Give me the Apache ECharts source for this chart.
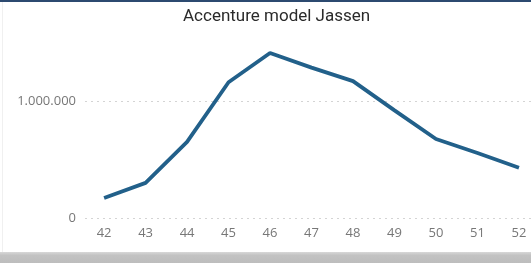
<!DOCTYPE html>
<html>
<head>
<meta charset="utf-8">
<script src="https://cdn.jsdelivr.net/npm/echarts@6/dist/echarts.min.js"></script>
<style>
    html, body { margin: 0; padding: 0; background: #fff; }
    #chart { width: 531px; height: 263px; }
</style>
</head>
<body>
<div id="chart"></div>
<script>
// Semanas e valores
const weeks = [42, 43, 44, 45, 46, 47, 48, 49, 50, 51, 52];
const values = [171000, 300000, 650000, 1160000, 1410000, 1285000, 1170000, 920000, 675000, 555000, 430000];
const yTicks = [0, 1000000];

// Formata número com ponto como separador de milhar
function formatThousands(v) {
    return String(v).replace(/\B(?=(\d{3})+(?!\d))/g, '.');
}

const chartDom = document.getElementById('chart');
const myChart = echarts.init(chartDom);

const option = {
    animation: false,
    title: {
        text: 'Accenture model Jassen',
        left: 178,
        top: 3,
        textStyle: {
            fontFamily: 'Roboto',
            fontSize: 17,
            fontWeight: 'normal',
            color: '#2a2a2a'
        }
    },
    grid: {
        left: 85,
        right: 0,
        top: 7.4,
        bottom: 45
    },
    xAxis: {
        type: 'value',
        min: 41.54,
        max: 52.29,
        axisLine: { show: false },
        axisTick: { show: false },
        splitLine: { show: false },
        axisLabel: {
            customValues: weeks,
            margin: 9,
            color: '#777',
            fontFamily: 'Open Sans',
            fontSize: 13
        }
    },
    yAxis: {
        type: 'value',
        min: 0,
        max: 1800000,
        interval: 1000000,
        axisLine: { show: false },
        axisTick: { show: false },
        axisLabel: {
            margin: 9,
            color: '#777',
            fontFamily: 'Open Sans',
            fontSize: 13,
            showMaxLabel: false,
            formatter: function (v) {
                return yTicks.includes(v) ? formatThousands(v) : '';
            }
        },
        splitLine: {
            showMaxLine: false,
            lineStyle: {
                color: '#d4d4d4',
                type: [2, 4],
                width: 1
            }
        }
    },
    series: [{
        type: 'line',
        data: weeks.map((w, i) => [w, values[i]]),
        showSymbol: false,
        lineStyle: {
            color: '#22608a',
            width: 3.8
        }
    }],
    graphic: [
        // faixa azul no topo
        { type: 'rect', shape: { x: 0, y: 0, width: 531, height: 2 }, style: { fill: '#2c4a70' } },
        // borda clara à esquerda
        { type: 'rect', shape: { x: 2, y: 2, width: 1, height: 250 }, style: { fill: '#f0f0f0' } },
        // sombra cinza na base
        {
            type: 'rect',
            shape: { x: 0, y: 252, width: 531, height: 11 },
            style: {
                fill: new echarts.graphic.LinearGradient(0, 0, 0, 1, [
                    { offset: 0, color: '#d8d8d8' },
                    { offset: 0.3, color: '#c2c2c2' },
                    { offset: 1, color: '#bdbdbd' }
                ])
            }
        }
    ]
};

myChart.setOption(option);
</script>
</body>
</html>
